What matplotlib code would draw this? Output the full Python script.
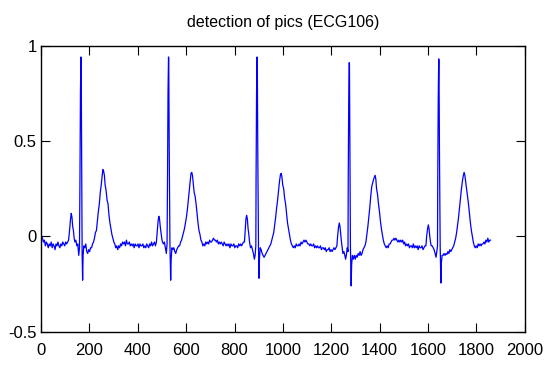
import numpy as np
import matplotlib.pyplot as plt

plt.rcParams['axes.unicode_minus'] = False
plt.rcParams['font.family'] = ['Liberation Sans', 'DejaVu Sans']

# ECG106 samples, one segment per beat
beat1_t = [0, 3, 6, 10, 14, 18, 22, 26, 30, 34, 38, 42, 46, 50, 54, 58, 62, 66, 70, 74, 78, 82, 86, 90,
           94, 98, 102, 106, 110, 114, 118, 122, 125, 128, 131, 134, 137, 140, 144, 148, 152, 156, 159,
           161, 163, 165, 166, 168, 170, 172, 174, 177, 181, 185, 189, 193, 197, 201, 205, 209, 213, 217,
           221, 225, 229, 233, 237, 241, 245, 249, 253, 256, 259, 262, 265, 269, 273, 277, 281, 285, 289,
           293, 297, 301, 305, 309, 313, 317, 321, 325, 329, 333, 337, 341, 345, 349, 353, 357, 361]
beat1_v = [0.00, 0.00, -0.01, -0.03, -0.02, -0.05, -0.03, -0.04, -0.06, -0.04, -0.05, -0.03, -0.06, -0.04,
           -0.05, -0.07, -0.04, -0.05, -0.03, -0.05, -0.06, -0.04, -0.05, -0.03, -0.04, -0.05, -0.03, -0.04,
           -0.03, -0.02, 0.03, 0.09, 0.12, 0.10, 0.05, 0.03, -0.01, -0.03, -0.02, -0.05, -0.04, -0.10, -0.06,
           0.30, 0.75, 0.94, 0.93, 0.40, -0.10, -0.23, -0.10, -0.05, -0.06, -0.04, -0.08, -0.09, -0.07, -0.08,
           -0.06, -0.06, -0.04, -0.03, -0.01, 0.02, 0.03, 0.08, 0.13, 0.17, 0.23, 0.27, 0.32, 0.35, 0.34, 0.32,
           0.27, 0.24, 0.19, 0.17, 0.11, 0.07, 0.04, 0.01, -0.01, -0.03, -0.04, -0.06, -0.05, -0.07, -0.05,
           -0.06, -0.04, -0.05, -0.03, -0.04, -0.03, -0.05, -0.02, -0.04, -0.04]

beat2_t = [365, 369, 373, 377, 381, 385, 389, 393, 397, 401, 405, 409, 413, 417, 421, 425, 429, 433, 437,
           441, 445, 449, 453, 457, 461, 465, 469, 473, 477, 480, 484, 487, 490, 493, 496, 499, 502, 506,
           510, 514, 518, 521, 523, 525, 527, 528, 530, 533, 536, 538, 541, 545, 549, 553, 557, 561, 565,
           569, 573, 577, 581, 585, 589, 593, 597, 601, 605, 609, 613, 617, 620, 623, 626, 629, 633, 637,
           641, 645, 649, 653, 657, 661, 665, 669, 673, 677, 681, 685, 689, 693, 697, 701, 705, 709, 713,
           717, 721, 725, 729, 733]
beat2_v = [-0.03, -0.05, -0.04, -0.05, -0.04, -0.06, -0.04, -0.05, -0.05, -0.04, -0.06, -0.04, -0.05, -0.05,
           -0.04, -0.06, -0.05, -0.06, -0.04, -0.05, -0.06, -0.04, -0.05, -0.03, -0.05, -0.04, -0.03, -0.05,
           -0.03, 0.02, 0.08, 0.105, 0.09, 0.05, 0.02, -0.01, -0.03, -0.04, -0.03, -0.06, -0.09, -0.04, 0.30,
           0.75, 0.94, 0.93, 0.45, -0.05, -0.23, -0.12, -0.06, -0.07, -0.06, -0.08, -0.09, -0.07, -0.06, -0.05,
           -0.05, -0.03, -0.02, 0.00, 0.02, 0.04, 0.07, 0.10, 0.14, 0.19, 0.24, 0.29, 0.33, 0.335, 0.32, 0.28,
           0.23, 0.21, 0.17, 0.12, 0.07, 0.03, 0.01, -0.02, -0.03, -0.05, -0.04, -0.05, -0.03, -0.04, -0.03,
           -0.04, -0.02, -0.03, -0.03, -0.02, -0.01, -0.02, -0.02, -0.03, -0.02, -0.04]

beat3_t = [737, 741, 745, 749, 753, 757, 761, 765, 769, 773, 777, 781, 785, 789, 793, 797, 801, 805, 809,
           813, 817, 821, 825, 829, 833, 837, 841, 844, 847, 850, 853, 856, 859, 862, 866, 870, 874, 878,
           882, 885, 888, 889, 891, 893, 894, 896, 899, 901, 903, 906, 910, 914, 918, 922, 926, 930, 934,
           938, 942, 946, 950, 954, 958, 962, 966, 970, 974, 978, 982, 986, 990, 993, 996, 999, 1003, 1007,
           1011, 1015, 1019, 1023, 1027, 1031, 1035, 1039, 1043, 1047, 1051, 1055, 1059, 1063, 1067, 1071,
           1075, 1079, 1083, 1087, 1091, 1095, 1099, 1103]
beat3_v = [-0.03, -0.04, -0.03, -0.04, -0.05, -0.03, -0.04, -0.05, -0.04, -0.05, -0.04, -0.06, -0.04, -0.05,
           -0.05, -0.04, -0.06, -0.05, -0.05, -0.06, -0.04, -0.05, -0.04, -0.05, -0.04, -0.03, -0.03, 0.03,
           0.09, 0.11, 0.09, 0.04, 0.01, -0.03, -0.06, -0.05, -0.07, -0.09, -0.12, -0.10, -0.05, 0.30, 0.75,
           0.94, 0.93, 0.45, -0.05, -0.22, -0.12, -0.06, -0.07, -0.09, -0.10, -0.11, -0.10, -0.09, -0.08,
           -0.07, -0.06, -0.05, -0.04, -0.02, 0.00, 0.02, 0.06, 0.10, 0.15, 0.19, 0.24, 0.29, 0.325, 0.33,
           0.31, 0.27, 0.25, 0.20, 0.17, 0.12, 0.07, 0.04, 0.01, -0.02, -0.04, -0.05, -0.06, -0.05, -0.06,
           -0.04, -0.05, -0.05, -0.04, -0.05, -0.03, -0.04, -0.03, -0.02, -0.03, -0.02, -0.03, -0.04]

beat4_t = [1107, 1111, 1115, 1119, 1123, 1127, 1131, 1135, 1139, 1143, 1147, 1151, 1155, 1159, 1163, 1167,
           1171, 1175, 1179, 1183, 1187, 1191, 1195, 1199, 1203, 1207, 1211, 1215, 1219, 1223, 1226, 1230,
           1233, 1236, 1239, 1242, 1245, 1248, 1252, 1256, 1259, 1262, 1266, 1269, 1270, 1272, 1274, 1275,
           1277, 1279, 1282, 1284, 1287, 1291, 1295, 1299, 1303, 1307, 1311, 1315, 1319, 1323, 1327, 1331,
           1335, 1339, 1343, 1347, 1351, 1355, 1359, 1363, 1367, 1371, 1375, 1378, 1381, 1384, 1387, 1391,
           1395, 1399, 1403, 1407, 1411, 1415, 1419, 1423, 1427, 1431, 1435, 1439, 1443, 1447, 1451, 1455,
           1459, 1463, 1467, 1471, 1475]
beat4_v = [-0.04, -0.05, -0.04, -0.05, -0.05, -0.04, -0.06, -0.05, -0.06, -0.05, -0.06, -0.06, -0.05, -0.07,
           -0.06, -0.06, -0.07, -0.06, -0.08, -0.07, -0.07, -0.06, -0.08, -0.07, -0.08, -0.07, -0.06, -0.07,
           -0.06, -0.05, 0.00, 0.05, 0.07, 0.05, 0.01, -0.03, -0.06, -0.09, -0.08, -0.10, -0.12, -0.10, -0.06,
           -0.08, 0.30, 0.72, 0.91, 0.90, 0.45, -0.05, -0.26, -0.15, -0.10, -0.12, -0.10, -0.12, -0.10, -0.11,
           -0.09, -0.10, -0.08, -0.10, -0.09, -0.07, -0.06, -0.05, -0.03, 0.01, 0.05, 0.10, 0.15, 0.21, 0.26,
           0.28, 0.30, 0.31, 0.32, 0.30, 0.25, 0.22, 0.17, 0.13, 0.08, 0.04, 0.01, -0.02, -0.04, -0.05, -0.06,
           -0.05, -0.06, -0.04, -0.04, -0.03, -0.02, -0.02, -0.01, -0.02, -0.01, -0.02, -0.03]

beat5_t = [1479, 1483, 1487, 1491, 1495, 1499, 1503, 1507, 1511, 1515, 1519, 1523, 1527, 1531, 1535, 1539,
           1543, 1547, 1551, 1555, 1559, 1563, 1567, 1571, 1575, 1579, 1583, 1587, 1591, 1594, 1598, 1601,
           1604, 1607, 1610, 1613, 1617, 1621, 1625, 1629, 1633, 1636, 1639, 1640, 1642, 1644, 1645, 1647,
           1650, 1653, 1655, 1658, 1662, 1666, 1670, 1674, 1678, 1682, 1686, 1690, 1694, 1698, 1702, 1706,
           1710, 1714, 1718, 1722, 1726, 1730, 1734, 1738, 1742, 1746, 1749, 1752, 1755, 1759, 1763, 1767,
           1771, 1775, 1779, 1783, 1787, 1791, 1795, 1799, 1803, 1807, 1811, 1815, 1819, 1823, 1827, 1831,
           1835, 1839, 1843, 1847, 1851, 1855, 1858]
beat5_v = [-0.02, -0.03, -0.02, -0.03, -0.02, -0.04, -0.03, -0.05, -0.04, -0.05, -0.04, -0.06, -0.05, -0.05,
           -0.06, -0.04, -0.06, -0.05, -0.06, -0.05, -0.07, -0.05, -0.06, -0.06, -0.05, -0.07, -0.06, -0.05,
           -0.05, 0.00, 0.04, 0.06, 0.04, 0.00, -0.03, -0.05, -0.05, -0.06, -0.07, -0.09, -0.11, -0.08, -0.05,
           0.30, 0.72, 0.93, 0.92, 0.45, -0.05, -0.245, -0.14, -0.10, -0.10, -0.09, -0.10, -0.09, -0.095,
           -0.08, -0.09, -0.07, -0.08, -0.07, -0.06, -0.05, -0.03, -0.01, 0.02, 0.06, 0.10, 0.15, 0.20, 0.25,
           0.29, 0.32, 0.335, 0.32, 0.29, 0.25, 0.21, 0.17, 0.12, 0.07, 0.03, 0.00, -0.03, -0.05, -0.06, -0.05,
           -0.06, -0.04, -0.05, -0.04, -0.05, -0.04, -0.04, -0.03, -0.04, -0.02, -0.03, -0.01, -0.03, -0.02,
           -0.02]

xticks = [0, 200, 400, 600, 800, 1000, 1200, 1400, 1600, 1800, 2000]
yticks = [-0.5, 0, 0.5, 1]
ytick_labels = ['-0.5', '0', '0.5', '1']

t = np.concatenate([beat1_t, beat2_t, beat3_t, beat4_t, beat5_t])
v = np.concatenate([beat1_v, beat2_v, beat3_v, beat4_v, beat5_v])

fig = plt.figure(figsize=(5.49, 3.70), dpi=100)
ax = fig.add_axes([0.0747, 0.1035, 0.8813, 0.7735])
ax.plot(t, v, color='#0000ff', lw=0.9)

ax.set_xlim(0, 2000)
ax.set_ylim(-0.5, 1)
ax.set_xticks(xticks)
ax.set_yticks(yticks)
ax.set_yticklabels(ytick_labels)
ax.tick_params(direction='in', top=True, right=True, length=6.5, width=0.8, labelsize=12)
ax.tick_params(axis='x', pad=8)
ax.tick_params(axis='y', pad=3)
for s in ax.spines.values():
    s.set_linewidth(1.0)
ax.set_title('detection of pics (ECG106)', fontsize=11.5, pad=13)

fig.savefig('out.png', dpi=100)
